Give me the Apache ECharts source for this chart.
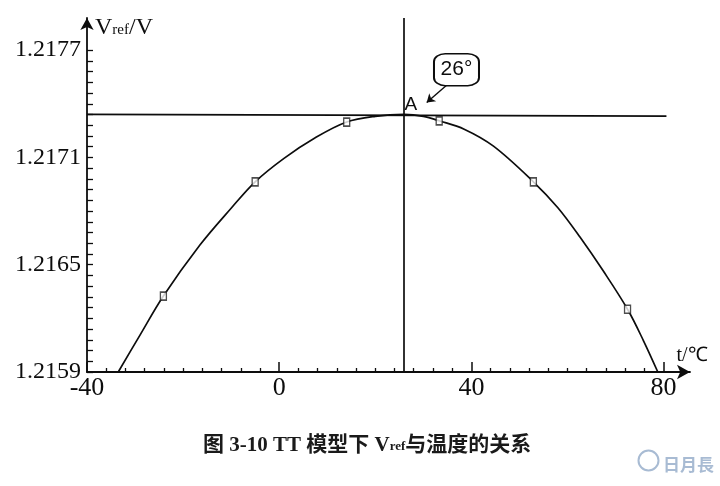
<!DOCTYPE html>
<html><head><meta charset="utf-8">
<script src="https://cdn.jsdelivr.net/npm/echarts@6/dist/echarts.min.js"></script>
<style>html,body{margin:0;padding:0;background:#fff}#c{width:720px;height:486px}</style>
</head><body><div id="c"></div>
<script>
// curve (t in °C, Vref in V)
const curveT = [-33.5, -29, -24.1, -16.5, -10, -5, 1, 7.5, 14.05, 20, 26, 30, 33.3, 38.5, 44.6, 52.9, 58, 62.6, 67.5, 72.5, 75.8, 78.8];
const curveV = [1.2159, 1.216105, 1.216325, 1.21661, 1.216816, 1.216964, 1.217095, 1.21721, 1.217298, 1.21733, 1.217341,
  1.21733, 1.217305, 1.217258, 1.217163, 1.216964, 1.216819, 1.216655, 1.216463, 1.216251, 1.216076, 1.2159];
// square markers
const markerT = [-24.1, -5, 14.05, 33.3, 52.9, 72.5];
const markerV = [1.216325, 1.216964, 1.217298, 1.217305, 1.216964, 1.216251];
// reference lines and annotation
const peakT = 26;
const refLineV = 1.217341;
const refLineEndT = 80.6;
const pointALabel = 'A';
const pointAPos = [27.4, 1.217396];
const boxLabel = '26°';
const boxPos = [36.9, 1.217591];
const arrowFrom = [35.5, 1.217519];
const arrowTo = [30.7, 1.217407];
// axes
const xMin = -40, xMax = 85.5;
const yMin = 1.2159, yMax = 1.21788;
const xLabelValues = [-40, 0, 40, 80];
const xMinorTicks = [-36, -32, -28, -24, -20, -16, -12, -8, -4, 4, 8, 12, 16, 20, 24, 28, 32, 36, 44, 48, 52, 56, 60, 64, 68, 72, 76];
const yLabelValues = [1.2159, 1.2165, 1.2171, 1.2177];
const yTicks = [1.2159, 1.21596, 1.21602, 1.21608, 1.21614, 1.2162, 1.21626, 1.21632, 1.21638, 1.21644,
  1.2165, 1.21656, 1.21662, 1.21668, 1.21674, 1.2168, 1.21686, 1.21692, 1.21698, 1.21704,
  1.2171, 1.21716, 1.21722, 1.21728, 1.21734, 1.2174, 1.21746, 1.21752, 1.21758, 1.21764, 1.2177];

const INK = '#0d0d0d';
const SERIF = '"Liberation Serif", "Times New Roman", serif';
const chart = echarts.init(document.getElementById('c'), null, {renderer: 'canvas'});
const lineData = curveT.map((t, i) => [t, curveV[i]]);
const markerData = markerT.map((t, i) => [t, markerV[i]]);

chart.setOption({
  animation: false,
  backgroundColor: '#fff',
  title: {
    left: 198, top: 430,
    text: '{a|图 3-10 TT 模型下 V}{s|ref}{a|与温度的关系}',
    textStyle: {
      rich: {
        a: {fontSize: 21, fontWeight: 'bold', color: '#1a1a1a', fontFamily: '"Liberation Serif", "Noto Sans CJK SC", serif', padding: [0, 0, 3, 0]},
        s: {fontSize: 13, fontWeight: 'bold', color: '#1a1a1a', fontFamily: SERIF}
      }
    }
  },
  grid: {left: 87, right: 30, top: 18, bottom: 114, containLabel: false},
  xAxis: [{
    type: 'value', min: xMin, max: xMax, position: 'bottom',
    name: 't/℃', nameLocation: 'end', nameGap: 2,
    nameTextStyle: {fontFamily: SERIF, fontSize: 20, color: INK, align: 'center', verticalAlign: 'bottom', padding: [0, 0, 6, 0]},
    axisLine: {show: true, onZero: false, symbol: ['none', 'arrow'], symbolSize: [11, 13], lineStyle: {color: INK, width: 1.8}},
    axisTick: {show: true, inside: true, length: 4, customValues: xMinorTicks, lineStyle: {color: INK, width: 1.3}},
    axisLabel: {show: true, customValues: xLabelValues, margin: 3, fontFamily: SERIF, fontSize: 26, color: INK},
    splitLine: {show: false}
  }, {
    type: 'value', min: xMin, max: xMax, position: 'bottom', offset: 0,
    axisLine: {show: false, onZero: false},
    axisTick: {show: true, inside: true, length: 10, customValues: xLabelValues, lineStyle: {color: INK, width: 1.5}},
    axisLabel: {show: false},
    splitLine: {show: false}
  }],
  yAxis: {
    type: 'value', min: yMin, max: yMax,
    name: '{v|V}{s|ref}{v|/V}', nameLocation: 'end', nameGap: -12,
    nameTextStyle: {
      align: 'left', verticalAlign: 'middle', padding: [0, 0, 0, 8],
      rich: {
        v: {fontFamily: SERIF, fontSize: 24, color: INK, padding: [0, 0, 4, 0]},
        s: {fontFamily: SERIF, fontSize: 15, color: INK}
      }
    },
    axisLine: {show: true, onZero: false, symbol: ['none', 'arrow'], symbolSize: [10, 12], lineStyle: {color: INK, width: 1.8}},
    axisTick: {show: true, inside: true, length: 6, customValues: yTicks, lineStyle: {color: INK, width: 1.3}},
    axisLabel: {show: true, customValues: yLabelValues, margin: 6, fontFamily: SERIF, fontSize: 24, color: INK,
      formatter: v => v.toFixed(4)},
    splitLine: {show: false}
  },
  series: [{
    type: 'line', data: lineData, smooth: 0.35, showSymbol: false,
    lineStyle: {color: INK, width: 1.7},
    markLine: {
      silent: true, animation: false, label: {show: false},
      lineStyle: {color: INK, width: 1.7, type: 'solid'},
      emphasis: {disabled: true},
      data: [
        [{xAxis: peakT, yAxis: yMin, symbol: 'none'}, {xAxis: peakT, yAxis: yMax, symbol: 'none'}],
        [{coord: [xMin, refLineV], symbol: 'none'}, {coord: [refLineEndT, refLineV - 0.00001], symbol: 'none'}],
        [{coord: arrowFrom, symbol: 'none'}, {coord: arrowTo, symbol: 'arrow', symbolSize: 8, lineStyle: {width: 1.4}}]
      ]
    },
    markPoint: {
      silent: true, animation: false,
      data: [
        {coord: pointAPos, symbol: 'circle', symbolSize: 0,
          label: {show: true, position: 'inside', formatter: pointALabel, fontFamily: '"Liberation Sans", Arial, sans-serif', fontSize: 19, color: INK}},
        {coord: boxPos, symbol: 'roundRect', symbolSize: [45, 32],
          itemStyle: {color: '#fff', borderColor: INK, borderWidth: 1.7},
          label: {show: true, position: 'inside', formatter: boxLabel, fontFamily: '"Liberation Sans", Arial, sans-serif', fontSize: 21, color: INK}}
      ]
    }
  }, {
    type: 'scatter', data: markerData, symbol: 'rect', symbolSize: [6, 8],
    itemStyle: {color: '#fff', borderColor: '#222', borderWidth: 1.5}, z: 5
  }],
  graphic: [
    {type: 'circle', right: 59, bottom: 13, shape: {r: 10}, style: {fill: 'none', stroke: '#a8bbd3', lineWidth: 2}},
    {type: 'text', right: 6, bottom: 13, style: {text: '日月長', fontSize: 17, fill: '#a8bbd3', fontFamily: '"Noto Sans CJK TC", sans-serif', fontWeight: 'bold'}}
  ]
});
</script>
</body></html>
